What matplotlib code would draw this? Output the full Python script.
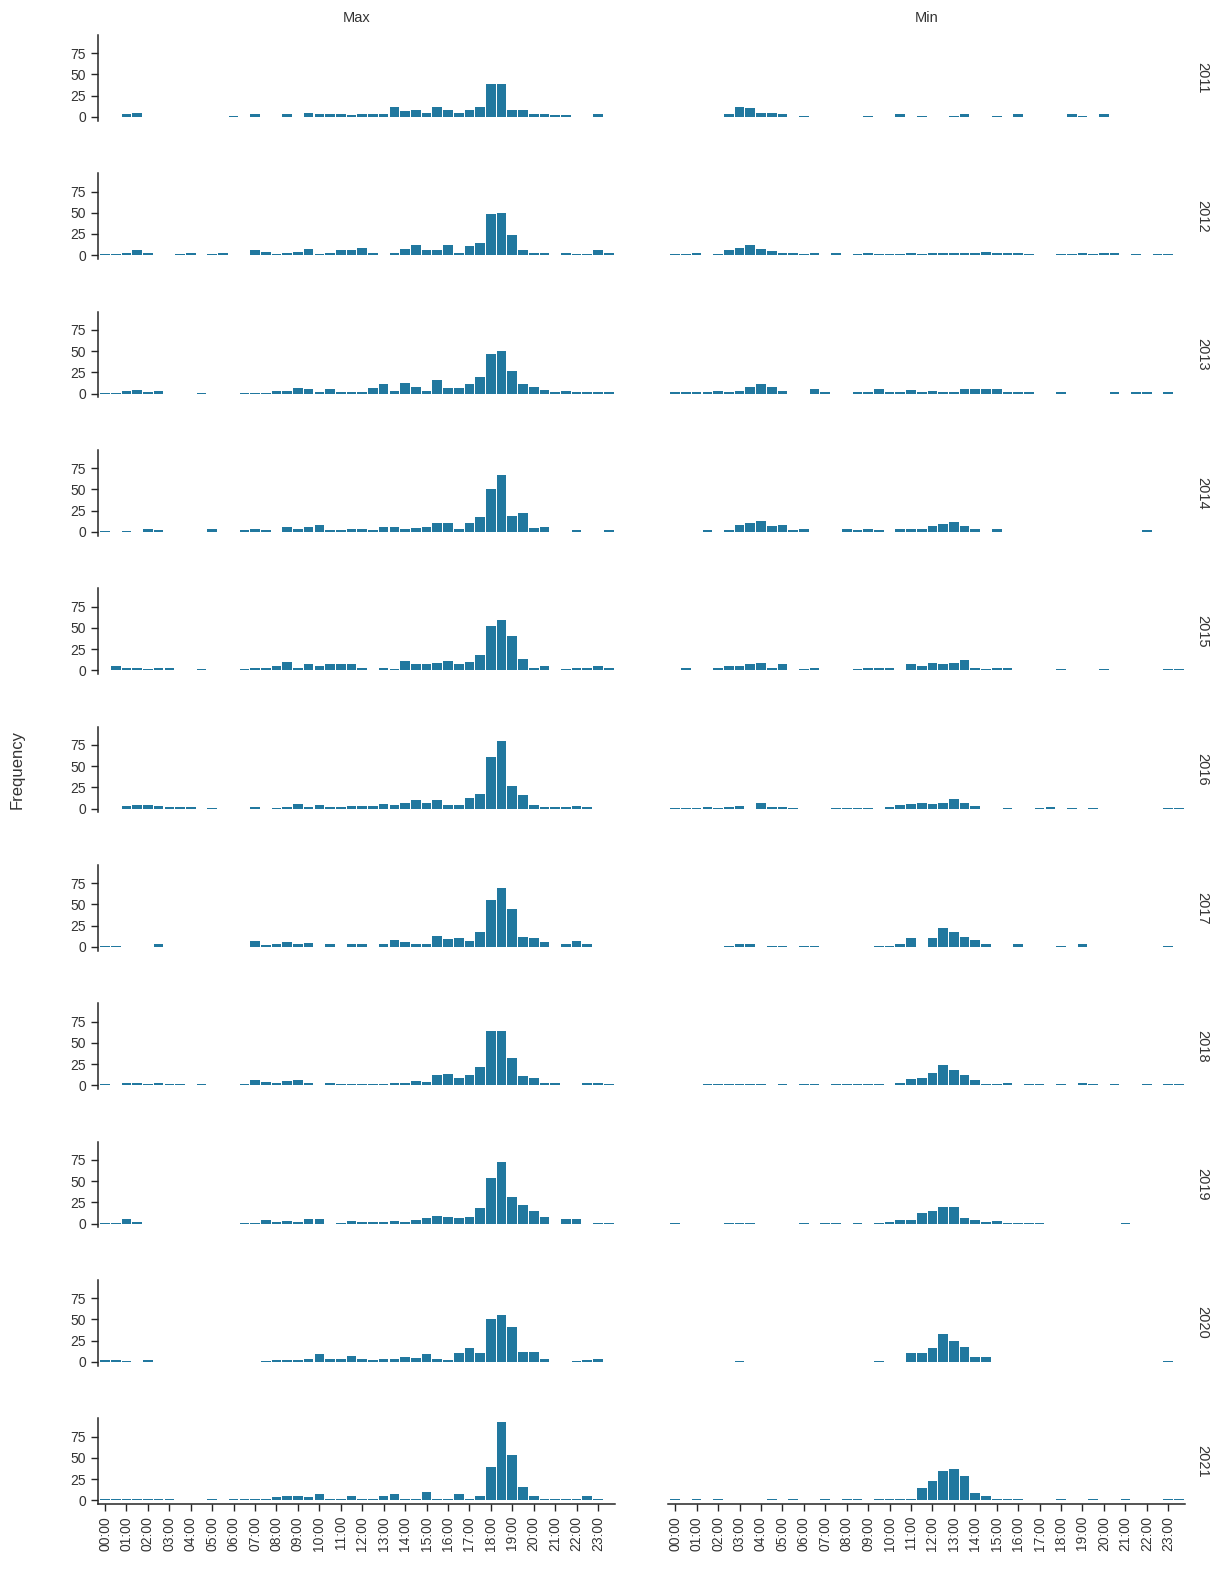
import matplotlib
matplotlib.use("Agg")
import matplotlib.pyplot as plt
import numpy as np

plt.rcParams['font.family'] = ['Liberation Sans', 'DejaVu Sans']

years = [2011, 2012, 2013, 2014, 2015, 2016, 2017, 2018, 2019, 2020, 2021]
columns = ["Max", "Min"]
hour_labels = ["%02d:00" % h for h in range(24)]

# counts per half-hour bin (48 bins, bin k centred on k*30 min)
max_2011 = [0,0,3,5,0,0,0,0,0,0, 0,0,1,0,3,0,0,3,0,5, 3,3,3,2,3,3,3,12,7,8, 4,12,8,5,8,12,39,39,8,8, 3,3,2,2,0,0,3,0]
min_2011 = [0,0,0,0,0,3,12,10,5,4, 3,0,1,0,0,0,0,0,1,0, 0,3,0,1,0,0,1,3,0,0, 1,0,3,0,0,0,0,3,1,0, 3,0,0,0,0,0,0,0]
max_2012 = [1,1,3,6,3,0,0,2,3,0, 2,3,0,0,6,4,2,3,4,7, 2,3,6,6,9,3,0,3,7,12, 6,6,12,3,11,14,48,50,24,6, 3,3,0,3,2,2,6,3]
min_2012 = [1,1,3,0,2,6,9,12,7,5, 3,3,2,3,0,3,0,2,3,2, 2,2,3,2,3,3,3,3,3,4, 3,3,3,1,0,0,2,2,3,2, 3,3,0,2,0,2,2,0]
max_2013 = [1,1,3,4,2,3,0,0,0,1, 0,0,0,1,1,1,3,3,6,5, 2,5,2,2,2,6,11,3,12,8, 3,16,6,7,11,19,47,50,27,11, 8,4,2,3,2,2,2,2]
min_2013 = [2,2,2,2,3,2,3,8,11,8, 3,0,0,5,2,0,0,2,2,5, 2,2,4,2,3,2,2,5,5,5, 5,2,2,2,0,0,2,0,0,0, 0,2,0,2,2,0,2,0]
max_2014 = [1,0,1,0,3,2,0,0,0,0, 3,0,0,2,3,2,0,6,3,6, 8,2,2,3,3,2,6,6,3,5, 6,10,10,3,11,18,50,67,19,22, 5,6,0,0,2,0,0,2]
min_2014 = [0,0,0,2,0,2,8,11,13,7, 8,2,3,0,0,0,3,2,3,2, 0,3,3,3,7,9,12,7,3,0, 3,0,0,0,0,0,0,0,0,0, 0,0,0,0,2,0,0,0]
max_2015 = [0,5,3,3,2,3,3,0,0,1, 0,0,0,2,3,3,5,10,3,7, 5,7,7,7,3,0,3,2,11,7, 7,8,11,7,10,18,52,59,40,13, 3,5,0,2,3,3,5,3]
min_2015 = [0,3,0,0,3,5,5,7,8,3, 7,0,2,3,0,0,0,2,3,3, 3,0,7,5,8,7,8,12,3,2, 3,3,0,0,0,0,1,0,0,0, 1,0,0,0,0,0,1,1]
max_2016 = [0,0,3,4,4,3,2,2,2,0, 1,0,0,0,2,0,1,2,5,2, 4,2,2,3,3,3,5,4,6,10, 7,10,4,4,13,17,61,79,26,16, 4,2,2,2,3,2,0,0]
min_2016 = [1,1,1,2,1,2,3,0,7,2, 2,1,0,0,0,1,1,1,1,0, 2,4,5,7,5,7,11,6,3,0, 0,1,0,0,1,2,0,1,0,1, 0,0,0,0,0,0,1,1]
max_2017 = [1,1,0,0,0,3,0,0,0,0, 0,0,0,0,7,2,4,6,3,5, 0,3,0,3,3,0,4,8,6,3, 3,13,9,10,7,17,55,69,45,12, 11,6,0,3,7,3,0,0]
min_2017 = [0,0,0,0,0,1,3,4,0,1, 1,0,1,1,0,0,0,0,0,1, 1,3,10,0,10,22,17,12,8,3, 0,0,3,0,0,0,1,0,3,0, 0,0,0,0,0,0,1,0]
max_2018 = [1,0,3,3,1,3,1,1,0,1, 0,0,0,1,6,4,3,5,6,3, 0,3,1,1,1,1,1,3,3,5, 4,12,13,8,12,22,64,64,32,11, 8,3,3,0,0,3,3,1]
min_2018 = [0,0,0,1,1,1,2,2,1,0, 2,0,1,1,0,1,1,1,1,2, 0,3,7,8,15,24,18,12,6,2, 2,3,0,1,1,0,1,0,3,1, 0,1,0,0,1,0,1,1]
max_2019 = [1,1,5,2,0,0,0,0,0,0, 0,0,0,1,1,4,2,3,2,5, 5,0,1,3,2,2,2,3,2,4, 7,9,8,7,8,18,54,72,31,22, 15,8,0,5,5,0,1,1]
min_2019 = [1,0,0,0,0,1,1,1,0,0, 0,0,1,0,1,1,0,1,0,1, 2,4,4,13,15,19,19,6,4,2, 3,1,1,1,1,0,0,0,0,0, 0,0,1,0,0,0,0,0]
max_2020 = [2,2,1,0,2,0,0,0,0,0, 0,0,0,0,0,1,2,2,2,3, 9,3,4,7,3,2,4,3,6,5, 9,4,2,11,16,10,51,55,41,12, 12,3,0,0,1,2,3,0]
min_2020 = [0,0,0,0,0,0,1,0,0,0, 0,0,0,0,0,0,0,0,0,1, 0,0,10,10,16,33,25,18,6,6, 0,0,0,0,0,0,0,0,0,0, 0,0,0,0,0,0,1,0]
max_2021 = [1,2,2,1,1,2,1,0,0,0, 1,0,2,1,2,2,4,5,5,4, 7,1,2,5,2,1,5,7,2,2, 10,2,2,7,2,5,39,92,53,16, 5,2,1,1,2,5,2,0]
min_2021 = [1,0,1,0,1,0,0,0,0,1, 0,1,0,0,1,0,1,1,0,1, 2,2,2,15,23,35,37,28,8,5, 2,2,1,0,0,0,1,0,0,1, 0,0,1,0,0,0,1,1]

max_series = [max_2011, max_2012, max_2013, max_2014, max_2015, max_2016,
              max_2017, max_2018, max_2019, max_2020, max_2021]
min_series = [min_2011, min_2012, min_2013, min_2014, min_2015, min_2016,
              min_2017, min_2018, min_2019, min_2020, min_2021]

bar_color = "#21789f"
text_color = "#333333"

fig, axes = plt.subplots(len(years), 2, figsize=(12.29, 15.85), dpi=100,
                         sharex=True, sharey=True)
fig.subplots_adjust(left=0.0797, right=0.9645, top=0.978, bottom=0.051,
                    wspace=0.1025, hspace=0.61)

bins = np.arange(48)
ymax = max(max(max(s) for s in max_series), max(max(s) for s in min_series))

for r, year in enumerate(years):
    for c, series in enumerate([max_series[r], min_series[r]]):
        ax = axes[r, c]
        vals = np.asarray(series, dtype=float)
        ax.bar(bins, vals, width=0.9, align="center", color=bar_color,
               linewidth=0)
        ax.set_xlim(-0.66, 47.6)
        ax.set_ylim(-0.05 * ymax, 1.05 * ymax)
        for s in ("top", "right"):
            ax.spines[s].set_visible(False)
        for s in ("left", "bottom"):
            ax.spines[s].set_color("#262626")
            ax.spines[s].set_linewidth(1.1)
        ax.set_yticks([0, 25, 50, 75])
        ax.set_xticks(np.arange(0, 48, 2))
        ax.set_xticklabels(hour_labels, rotation=90)
        ax.tick_params(axis="both", direction="out", length=5, width=1.0,
                       color="#262626", labelsize=10, labelcolor=text_color)
        if c == 1:
            ax.spines["left"].set_visible(False)
            ax.tick_params(axis="y", left=False, labelleft=False)
        if r < len(years) - 1:
            ax.spines["bottom"].set_visible(False)
            ax.tick_params(axis="x", bottom=False, labelbottom=False)
        else:
            ax.tick_params(axis="x", bottom=True, labelbottom=True)
        if r == 0:
            ax.set_title(columns[c], fontsize=10.5, color=text_color, pad=9)
        if c == 1:
            ax.annotate(str(year), xy=(1.02, 0.5), xycoords="axes fraction",
                        rotation=270, ha="left", va="center",
                        fontsize=10.5, color=text_color)

axes_top = axes[0, 0].get_position().y1
axes_bot = axes[-1, 0].get_position().y0
fig.text(0.014, (axes_top + axes_bot) / 2, "Frequency", rotation=90,
         ha="center", va="center", fontsize=12, color=text_color)

fig.savefig("out.png", dpi=100, facecolor="white")
